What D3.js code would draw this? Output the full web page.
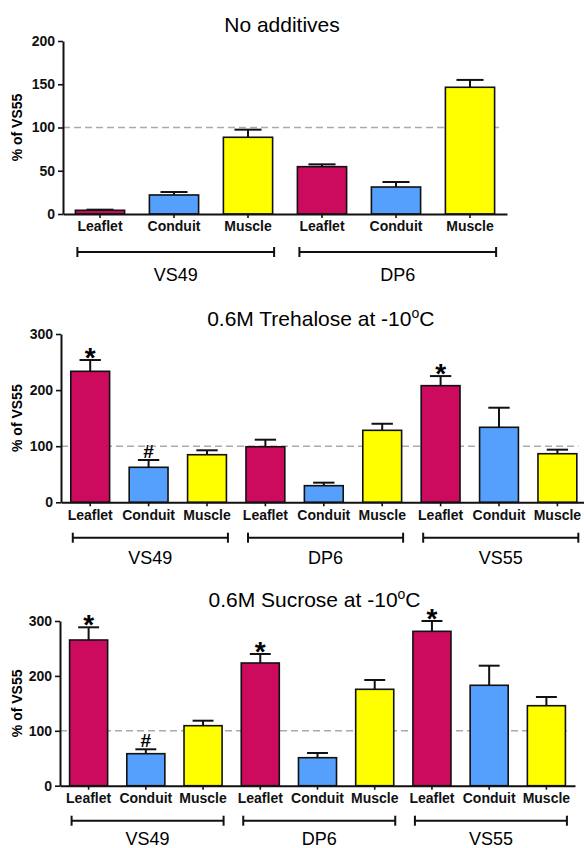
<!DOCTYPE html>
<html>
<head>
<meta charset="utf-8">
<script src="https://cdn.jsdelivr.net/npm/d3@7"></script>
<style>
  body { margin: 0; background: #fff; }
  text { font-family: "Liberation Sans", Arial, sans-serif; }
</style>
</head>
<body>
<div id="chart"></div>
<script>
// Data
const tissues = ["Leaflet", "Conduit", "Muscle"]
const groups1 = ["VS49", "DP6"]
const groups2 = ["VS49", "DP6", "VS55"]

// No additives (mean, SEM)
const noAddMean = [4.3, 22, 88.7, 54.7, 31.2, 146.5]
const noAddErr = [0.7, 3.4, 8.8, 2.7, 5.8, 8.5]
const noAddMarks = ["", "", "", "", "", ""]

// 0.6M Trehalose
const trehMean = [233.5, 62.4, 84.8, 99, 29.6, 128.3, 207.9, 133.7, 86.6]
const trehErr = [20.1, 13, 7.9, 12.6, 5.4, 11.7, 17.1, 34.9, 7.2]
const trehMarks = ["*", "#", "", "", "", "", "*", "", ""]

// 0.6M Sucrose
const sucMean = [265.4, 58.3, 109.3, 223.5, 51, 175.6, 281.2, 182.9, 145.7]
const sucErr = [23.1, 8, 9.1, 16.4, 8.6, 16.9, 18.8, 35.7, 15.9]
const sucMarks = ["*", "#", "", "*", "", "", "*", "", ""]

const ticks1 = [0, 50, 100, 150, 200]
const ticks2 = [0, 100, 200, 300]
const refLine = 100

const colors = { Leaflet: "#cc0a5e", Conduit: "#55a0fc", Muscle: "#ffff00" }

const svg = d3.select("#chart").append("svg")
  .attr("width", 584)
  .attr("height", 848)

// one panel
function panel(opt) {
  const n = opt.mean.length
  const g = svg.append("g")

  const x = d3.scaleBand().domain(d3.range(n)).range([opt.x0, opt.x1])
    .paddingInner(0.335).paddingOuter(0.1675)
  const y = d3.scaleLinear().domain([0, opt.ymax]).range([opt.y0, opt.yTop])
  const bw = x.bandwidth()
  const cat = (i) => tissues[i % 3]

  // title
  const t = g.append("text")
    .attr("x", (opt.x0 + opt.x1) / 2 - 3)
    .attr("y", opt.titleY)
    .attr("text-anchor", "middle")
    .attr("font-size", 21)
  t.append("tspan").text(opt.title)
  if (opt.deg) {
    t.append("tspan").attr("font-size", 14).attr("dy", -8).text("o")
    t.append("tspan").attr("dy", 8).text("C")
  }

  // reference dashed line
  g.append("line")
    .attr("x1", opt.x0).attr("x2", opt.x1 - 8)
    .attr("y1", y(refLine)).attr("y2", y(refLine))
    .attr("stroke", "#aaaaaa").attr("stroke-width", 1.6)
    .attr("stroke-dasharray", "7,4")

  // bars
  g.selectAll("rect.bar").data(opt.mean).join("rect")
    .attr("class", "bar")
    .attr("x", (d, i) => x(i))
    .attr("y", (d) => y(d))
    .attr("width", bw)
    .attr("height", (d) => y(0) - y(d))
    .attr("fill", (d, i) => colors[cat(i)])
    .attr("stroke", "#111").attr("stroke-width", 1.6)

  // error bars (upper only)
  const cap = bw * 0.55
  opt.mean.forEach((m, i) => {
    const cx = x(i) + bw / 2
    const top = y(m + opt.err[i])
    g.append("line").attr("x1", cx).attr("x2", cx)
      .attr("y1", y(m)).attr("y2", top)
      .attr("stroke", "#111").attr("stroke-width", 2)
    g.append("line").attr("x1", cx - cap / 2).attr("x2", cx + cap / 2)
      .attr("y1", top).attr("y2", top)
      .attr("stroke", "#111").attr("stroke-width", 2)
    const mk = opt.marks[i]
    if (mk === "*") {
      g.append("text").attr("x", cx).attr("y", top + 7)
        .attr("text-anchor", "middle").attr("font-size", 28)
        .attr("font-weight", "bold").text("*")
    } else if (mk === "#") {
      g.append("text").attr("x", cx).attr("y", top - 2)
        .attr("text-anchor", "middle").attr("font-size", 19)
        .attr("font-weight", "bold").text("#")
    }
  })

  // axes
  const yaxis = d3.axisLeft(y).tickValues(opt.ticks).tickSize(5).tickPadding(3).tickSizeOuter(0)
  const gy = g.append("g").attr("transform", `translate(${opt.x0},0)`).call(yaxis)
  const xaxis = d3.axisBottom(x).tickFormat(cat).tickSize(4).tickPadding(3.5).tickSizeOuter(0)
  const gx = g.append("g").attr("transform", `translate(0,${opt.y0})`).call(xaxis)

  gy.selectAll("text").attr("font-size", 14).attr("font-weight", "bold").attr("fill", "#111")
  gx.selectAll("text").attr("font-size", 14).attr("font-weight", "bold").attr("fill", "#111")
  g.selectAll(".domain").attr("stroke", "#111").attr("stroke-width", 2)
  g.selectAll(".tick line").attr("stroke", "#111").attr("stroke-width", 1.6)
  g.selectAll(".tick text").attr("font-family", '"Liberation Sans", Arial, sans-serif')

  // y label
  g.append("text")
    .attr("transform", `translate(22,${(opt.y0 + opt.yTop) / 2}) rotate(-90)`)
    .attr("text-anchor", "middle")
    .attr("font-size", 14).attr("font-weight", "bold")
    .text("% of VS55")

  // group brackets
  opt.groups.forEach((grp, k) => {
    const xa = x(k * 3) + 2
    const xb = x(k * 3 + 2) + bw + 1.5
    const by = opt.y0 + opt.brGap
    g.append("line").attr("x1", xa).attr("x2", xb).attr("y1", by).attr("y2", by)
      .attr("stroke", "#111").attr("stroke-width", 2)
    ;[xa, xb].forEach((xx) => {
      g.append("line").attr("x1", xx).attr("x2", xx).attr("y1", by - 5).attr("y2", by + 5)
        .attr("stroke", "#111").attr("stroke-width", 2)
    })
    g.append("text").attr("x", (xa + xb) / 2).attr("y", by + opt.lblGap)
      .attr("text-anchor", "middle").attr("font-size", 18)
      .text(grp)
  })
}

panel({ title: "No additives", deg: false, mean: noAddMean, err: noAddErr, marks: noAddMarks,
  groups: groups1, ticks: ticks1, ymax: 200,
  x0: 63, x1: 507, y0: 214, yTop: 41, titleY: 32, brGap: 38, lblGap: 29 })

panel({ title: "0.6M Trehalose at -10", deg: true, mean: trehMean, err: trehErr, marks: trehMarks,
  groups: groups2, ticks: ticks2, ymax: 300,
  x0: 61, x1: 586.6, y0: 502.3, yTop: 334, titleY: 326, brGap: 35.4, lblGap: 26 })

panel({ title: "0.6M Sucrose at -10", deg: true, mean: sucMean, err: sucErr, marks: sucMarks,
  groups: groups2, ticks: ticks2, ymax: 300,
  x0: 60, x1: 575, y0: 785.7, yTop: 621, titleY: 607, brGap: 35, lblGap: 24.5 })
</script>
</body>
</html>
